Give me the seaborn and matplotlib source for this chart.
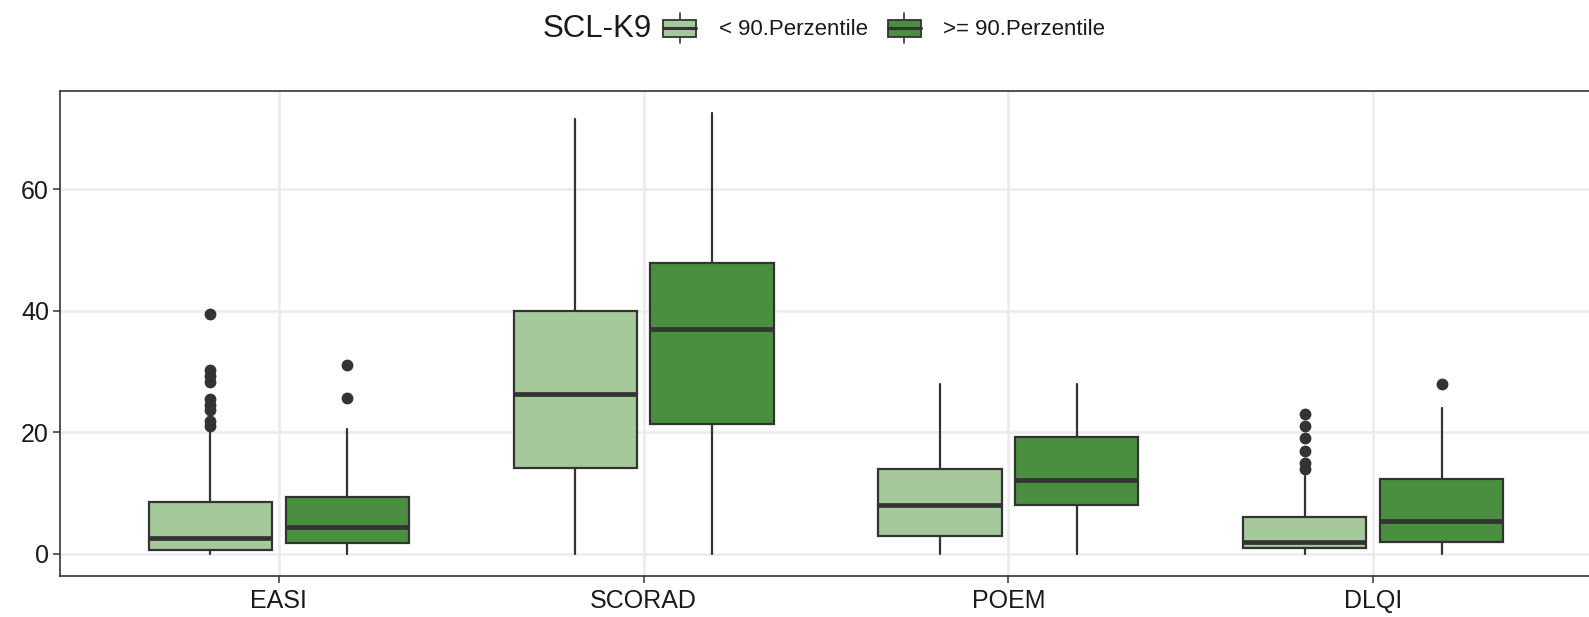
import numpy as np
import matplotlib
matplotlib.use("Agg")
import matplotlib.pyplot as plt
import seaborn as sns
from matplotlib.legend_handler import HandlerBase
from matplotlib.patches import Rectangle
from matplotlib.lines import Line2D

# ---- data -------------------------------------------------------------
categories = ["EASI", "SCORAD", "POEM", "DLQI"]
group_labels = ["< 90.Perzentile", ">= 90.Perzentile"]
legend_title = "SCL-K9"

low_whislo = [0.0, 0.0, 0.0, 0.0]
low_q1 = [0.7, 14.1, 3.0, 0.9]
low_med = [2.7, 26.3, 8.0, 2.0]
low_q3 = [8.55, 40.0, 14.0, 6.0]
low_whishi = [20.2, 71.5, 28.0, 12.8]
low_fliers = [[21.0, 21.8, 23.6, 24.5, 25.4, 28.2, 29.3, 30.3, 39.5],
              [], [], [14.0, 15.0, 17.0, 19.0, 21.0, 23.0]]

high_whislo = [0.0, 0.0, 0.0, 0.0]
high_q1 = [1.8, 21.3, 8.0, 2.0]
high_med = [4.4, 37.0, 12.1, 5.5]
high_q3 = [9.4, 47.8, 19.2, 12.3]
high_whishi = [20.6, 72.5, 28.0, 24.0]
high_fliers = [[25.7, 31.0], [], [], [28.0]]

colors = ["#A6C99B", "#4A8F40"]
edge = "#333333"

# ---- style ------------------------------------------------------------
sns.set_theme(style="whitegrid")
plt.rcParams["font.family"] = ["Liberation Sans", "DejaVu Sans"]

W, H = 1589, 617
fig = plt.figure(figsize=(W / 100, H / 100), dpi=100)
ax = fig.add_axes([60 / W, (H - 576) / H, (1592 - 60) / W, (576 - 91) / H])


def make_stats(whislo, q1, med, q3, whishi, fliers):
    return [dict(whislo=a, q1=b, med=c, q3=d, whishi=e, fliers=np.array(f))
            for a, b, c, d, e, f in zip(whislo, q1, med, q3, whishi, fliers)]


series = [
    make_stats(low_whislo, low_q1, low_med, low_q3, low_whishi, low_fliers),
    make_stats(high_whislo, high_q1, high_med, high_q3, high_whishi, high_fliers),
]

dodge = 0.1875
box_w = 0.3375
base = np.arange(len(categories))
for k, stats in enumerate(series):
    pos = base + (-dodge if k == 0 else dodge)
    ax.bxp(stats, positions=pos, widths=box_w, patch_artist=True,
           showcaps=False, manage_ticks=False,
           boxprops=dict(facecolor=colors[k], edgecolor=edge, linewidth=1.6),
           medianprops=dict(color=edge, linewidth=3.4, solid_capstyle="butt"),
           whiskerprops=dict(color=edge, linewidth=1.6),
           flierprops=dict(marker="o", markerfacecolor=edge, markeredgecolor=edge,
                           markersize=7.5, linestyle="none"),
           zorder=3)

# ---- axes -------------------------------------------------------------
all_low = low_whislo + high_whislo
all_high = low_whishi + high_whishi + [v for f in low_fliers + high_fliers for v in f]
ymin, ymax = min(all_low), max(all_high)
pad = 0.05 * (ymax - ymin)
ax.set_ylim(ymin - pad, ymax + pad)
ax.set_xlim(-0.6, len(categories) - 0.4)
ax.set_xticks(base)
ax.set_xticklabels(categories)
ax.set_yticks([0, 20, 40, 60])
ax.set_xlabel("")
ax.set_ylabel("")
ax.set_facecolor("white")
ax.grid(True, color="#EBEBEB", linewidth=1.8)
ax.set_axisbelow(True)
for s in ax.spines.values():
    s.set_visible(True)
    s.set_color("#333333")
    s.set_linewidth(1.2)
ax.tick_params(axis="both", which="major", length=5, width=1.1, color="#333333",
               labelsize=18, labelcolor="#1A1A1A", bottom=True, left=True)
ax.tick_params(axis="y", pad=3)
ax.tick_params(axis="x", pad=18)
for lbl in ax.get_xticklabels():
    lbl.set_verticalalignment("baseline")


# ---- legend -----------------------------------------------------------
class BoxKey(HandlerBase):
    def create_artists(self, legend, orig_handle, xdescent, ydescent,
                       width, height, fontsize, trans):
        x0, y0 = -xdescent, -ydescent
        cx = x0 + width / 2
        b0, b1 = y0 + 0.21 * height, y0 + 0.77 * height
        rect = Rectangle((x0, b0), width, b1 - b0, facecolor=orig_handle,
                         edgecolor=edge, linewidth=1.3, transform=trans)
        med = Line2D([x0, x0 + width], [(b0 + b1) / 2] * 2, color=edge,
                     linewidth=2.2, transform=trans)
        w1 = Line2D([cx, cx], [y0, b0], color=edge, linewidth=1.2, transform=trans)
        w2 = Line2D([cx, cx], [b1, y0 + height], color=edge, linewidth=1.2,
                    transform=trans)
        return [w1, w2, rect, med]


fig.text(652 / W, 1 - 29 / H, legend_title, ha="right", va="center",
         fontsize=22.5, color="#1A1A1A")
leg = fig.legend(colors, group_labels, handler_map={str: BoxKey()},
                 loc="center left", bbox_to_anchor=(663 / W, 1 - 28 / H),
                 ncol=2, frameon=False, fontsize=16, borderpad=0,
                 borderaxespad=0, handlelength=1.5, handleheight=1.75,
                 handletextpad=1.0, columnspacing=0.9)
for t in leg.get_texts():
    t.set_color("#1A1A1A")

fig.savefig("out.png", dpi=100, facecolor="white")
